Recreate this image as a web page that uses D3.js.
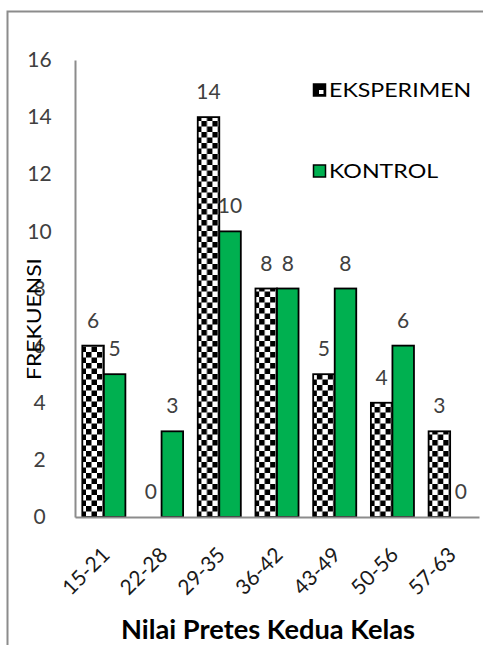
<!DOCTYPE html>
<html><head><meta charset="utf-8">
<script src="https://cdn.jsdelivr.net/npm/d3@7"></script>
<style>body{margin:0;background:#fff;} svg{display:block;}</style>
</head><body>
<svg id="chart" width="483" height="645"></svg>
<script>
const categories = ["15-21","22-28","29-35","36-42","43-49","50-56","57-63"];
const seriesNames = ["EKSPERIMEN","KONTROL"];
const eksperimen = [6,0,14,8,5,4,3];
const kontrol = [5,3,10,8,8,6,0];
const yTicks = [0,2,4,6,8,10,12,14,16];
const yTitle = "FREKUENSI";
const xTitle = "Nilai Pretes Kedua Kelas";

const font = "Lato, 'Open Sans', sans-serif";
const svg = d3.select("#chart");
const defs = svg.append("defs");
const cs = 5.5;
const pat = defs.append("pattern").attr("id","checker").attr("patternUnits","userSpaceOnUse")
  .attr("width",cs*2).attr("height",cs*2);
pat.append("rect").attr("width",cs*2).attr("height",cs*2).attr("fill","#fff");
pat.append("rect").attr("width",cs).attr("height",cs).attr("fill","#000");
pat.append("rect").attr("x",cs).attr("y",cs).attr("width",cs).attr("height",cs).attr("fill","#000");

// frame
svg.append("rect").attr("x",7.5).attr("y",11.5).attr("width",700).attr("height",700)
  .attr("fill","none").attr("stroke","#8c8c8c").attr("stroke-width",2);

const mLeft=75, mRight=479, mTop=60, mBottom=517;
const x0 = d3.scaleBand().domain(categories).range([mLeft,mRight]).padding(0);
const x1 = d3.scaleBand().domain(seriesNames).range([0,x0.bandwidth()]).paddingInner(0).paddingOuter(0.34);
const y = d3.scaleLinear().domain([0,16]).range([mBottom,mTop]);
const fills = {"EKSPERIMEN":"url(#checker)","KONTROL":"#00b050"};

const data = categories.map((c,i)=>({cat:c, vals:[{s:"EKSPERIMEN",v:eksperimen[i]},{s:"KONTROL",v:kontrol[i]}]}));

// y axis
const yAxis = d3.axisLeft(y).tickValues(yTicks).tickSize(0).tickPadding(0);
const gy = svg.append("g").attr("transform",`translate(${mLeft},0)`).call(yAxis);
gy.select(".domain").attr("stroke","#8c8c8c").attr("stroke-width",2);
gy.selectAll("text").attr("font-family",font).attr("font-size",21).attr("fill","#404040")
  .attr("text-anchor","middle").attr("x",-35.5);

// bars
const groups = svg.append("g").selectAll("g").data(data).join("g")
  .attr("transform",d=>`translate(${x0(d.cat)},0)`);
groups.selectAll("rect").data(d=>d.vals).join("rect")
  .attr("x",d=>x1(d.s)).attr("width",x1.bandwidth())
  .attr("y",d=>y(d.v)).attr("height",d=>y(0)-y(d.v))
  .attr("fill",d=>fills[d.s]).attr("stroke","#000").attr("stroke-width",1.8)
  .attr("visibility",d=>d.v>0?"visible":"hidden");
groups.selectAll("text").data(d=>d.vals).join("text")
  .attr("x",d=>x1(d.s)+x1.bandwidth()/2).attr("y",d=>y(d.v)-18)
  .attr("text-anchor","middle").attr("font-family",font).attr("font-size",21).attr("fill","#404040")
  .text(d=>d.v);

// x axis
const xAxis = d3.axisBottom(x0).tickSize(0).tickPadding(0);
const gx = svg.append("g").attr("transform",`translate(0,${mBottom})`).call(xAxis);
gx.select(".domain").attr("stroke","#8c8c8c").attr("stroke-width",2);
gx.selectAll("text").attr("font-family",font).attr("font-size",21).attr("fill","#1a1a1a")
  .attr("text-anchor","end").attr("y",0).attr("dy","0.35em")
  .attr("transform","translate(2,34) rotate(-45)");

// titles
svg.append("text").attr("transform",`translate(34.5,319) rotate(-90)`).attr("text-anchor","middle")
  .attr("dy","0.35em").attr("font-family",font).attr("font-size",19).attr("fill","#000")
  .attr("textLength",122).attr("lengthAdjust","spacingAndGlyphs").text(yTitle);
svg.append("text").attr("x",268).attr("y",639).attr("text-anchor","middle")
  .attr("font-family",font).attr("font-weight","bold").attr("font-size",27).attr("fill","#000")
  .attr("textLength",294).attr("lengthAdjust","spacingAndGlyphs").text(xTitle);

// legend
const legY = [90,171];
const leg = svg.append("g").selectAll("g").data(seriesNames).join("g")
  .attr("transform",(d,i)=>`translate(313,${legY[i]})`);
leg.append("rect").attr("x",0.5).attr("y",-6).attr("width",12).attr("height",12)
  .attr("fill",d=>d==="KONTROL"?fills[d]:"#000").attr("stroke","#000").attr("stroke-width",1.5);
leg.filter(d=>d==="EKSPERIMEN").append("rect").attr("x",6).attr("y",0).attr("width",4.5).attr("height",4)
  .attr("fill","#fff");
leg.append("text").attr("x",16).attr("dy","0.36em").attr("font-family",font).attr("font-size",19)
  .attr("fill","#000").text(d=>d)
  .each(function(){ const n=this.getComputedTextLength(); d3.select(this).attr("textLength",n*1.22).attr("lengthAdjust","spacingAndGlyphs"); });
</script>
</body></html>
